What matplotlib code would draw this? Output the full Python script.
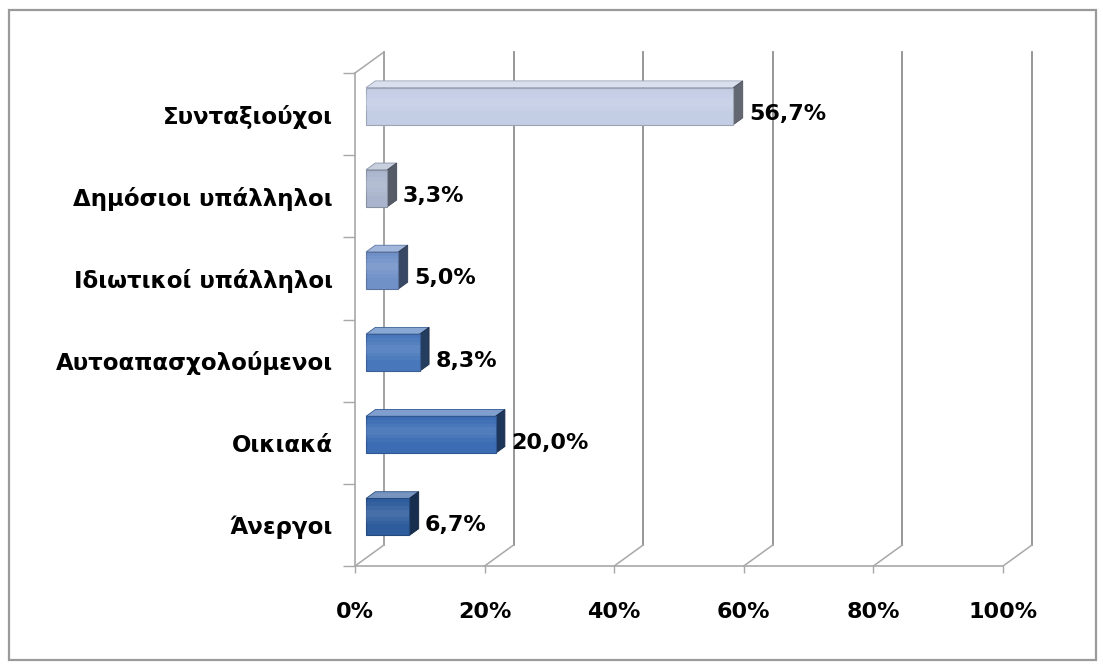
import matplotlib
matplotlib.use("Agg")
import matplotlib.pyplot as plt
from matplotlib.patches import Polygon, Rectangle
from matplotlib.colors import to_rgb
import numpy as np

# Data (top to bottom as in the chart)
categories = ["Συνταξιούχοι", "Δημόσιοι υπάλληλοι", "Ιδιωτικοί υπάλληλοι",
              "Αυτοαπασχολούμενοι", "Οικιακά", "Άνεργοι"]
values = [56.7, 3.3, 5.0, 8.3, 20.0, 6.7]
x_ticks = [0, 20, 40, 60, 80, 100]
x_tick_labels = ["0%", "20%", "40%", "60%", "80%", "100%"]

bar_colors = ["#c3cde4", "#aab5cd", "#7090c8", "#4877bb", "#3b6cb4", "#2e5c9c"]

plt.rcParams["font.family"] = ["DejaVu Sans"]
plt.rcParams["font.weight"] = "bold"

W, H = 1103, 666
fig = plt.figure(figsize=(W / 100, H / 100), dpi=100)
fig.patch.set_facecolor("white")

# front plane of the 3d box, in figure pixels: x 355..1003, y 73..566
ax = fig.add_axes([355 / W, (H - 566) / H, (1003 - 355) / W, (566 - 73) / H])
ax.set_xlim(0, 100)
ax.set_ylim(len(categories) - 0.5, -0.5)
ax.set_facecolor("none")

# pixel -> data scale, used for the depth effect
sx = (1003 - 355) / 100.0
sy = (566 - 73) / len(categories)
ddx = 29 / sx      # depth offset (right)
ddy = -21 / sy     # depth offset (up)

grid_col = "#8f8f8f"
wall_col = "#a8a8a8"

# back wall gridlines
for t in x_ticks:
    ax.plot([t + ddx, t + ddx], [len(categories) - 0.5 + ddy, -0.5 + ddy],
            color=grid_col, lw=1.3, clip_on=False, zorder=1)
    # floor diagonals
    ax.plot([t, t + ddx], [len(categories) - 0.5, len(categories) - 0.5 + ddy],
            color=wall_col, lw=1.1, clip_on=False, zorder=1)

# left wall edges
ax.plot([0 + ddx, 0 + ddx], [len(categories) - 0.5 + ddy, -0.5 + ddy],
        color=wall_col, lw=1.1, clip_on=False, zorder=1)
ax.plot([0, ddx], [-0.5, -0.5 + ddy], color=wall_col, lw=1.1, clip_on=False, zorder=1)

# bars as 3d boxes
f0, f1 = 0.38, 0.70
h = 0.45
y = np.arange(len(categories))


def shade(c, k):
    r, g, b = to_rgb(c)
    if k < 1:
        return (r * k, g * k, b * k)
    k = k - 1
    return (r + (1 - r) * k, g + (1 - g) * k, b + (1 - b) * k)


for yi, v, c in zip(y, values, bar_colors):
    top = yi - h / 2 + f0 * ddy
    bot = yi + h / 2 + f0 * ddy
    x0 = f0 * ddx
    x1 = v + f0 * ddx
    # top face
    ax.add_patch(Polygon([(x0, top), (x1, top),
                          (x1 + (f1 - f0) * ddx, top + (f1 - f0) * ddy),
                          (x0 + (f1 - f0) * ddx, top + (f1 - f0) * ddy)],
                         closed=True, fc=shade(c, 1.35), ec=shade(c, 0.8),
                         lw=0.6, clip_on=False, zorder=3))
    # end cap
    ax.add_patch(Polygon([(x1, top), (x1, bot),
                          (x1 + (f1 - f0) * ddx, bot + (f1 - f0) * ddy),
                          (x1 + (f1 - f0) * ddx, top + (f1 - f0) * ddy)],
                         closed=True, fc=shade(c, 0.5), ec=shade(c, 0.4),
                         lw=0.6, clip_on=False, zorder=3))

bars = ax.barh(y + f0 * ddy, values, left=f0 * ddx, height=h,
               color=bar_colors, edgecolor=[shade(c, 0.8) for c in bar_colors],
               linewidth=0.8, zorder=4)
# soft highlight on the front faces (a few layered strips)
for frac, a in [(0.6, 0.15), (0.4, 0.2), (0.2, 0.25)]:
    ax.barh(y + f0 * ddy - h * 0.1, values, left=f0 * ddx, height=h * frac,
            color=[shade(c, 1.25) for c in bar_colors], linewidth=0,
            zorder=5, alpha=a)

# value labels
for yi, v in zip(y, values):
    ax.annotate(f"{v:.1f}%".replace(".", ","), (v, yi), xytext=(19, 0),
                textcoords="offset points", ha="left", va="center",
                fontsize=16, fontweight="bold", color="black", zorder=6)

# axes styling
for s in ["top", "right"]:
    ax.spines[s].set_visible(False)
for s in ["left", "bottom"]:
    ax.spines[s].set_color(wall_col)
    ax.spines[s].set_linewidth(1.2)

ax.set_xticks(x_ticks)
ax.set_xticklabels(x_tick_labels, fontsize=16, fontweight="bold")
ax.tick_params(axis="x", length=5, width=1, color=wall_col, pad=21)

ax.set_yticks(y)
ax.set_yticklabels(categories, fontsize=16.5, fontweight="bold")
ax.tick_params(axis="y", which="major", length=0, pad=16)
ax.set_yticks(np.arange(-0.5, len(categories)), minor=True)
ax.tick_params(axis="y", which="minor", length=9, width=1, color=wall_col)

# outer chart border
fig.patches.append(Rectangle((9 / W, 6 / H), (1096 - 9) / W, (658 - 8) / H,
                             transform=fig.transFigure, fill=False,
                             ec="#9a9a9a", lw=1.6))

fig.savefig("out.png", dpi=100, facecolor="white")
